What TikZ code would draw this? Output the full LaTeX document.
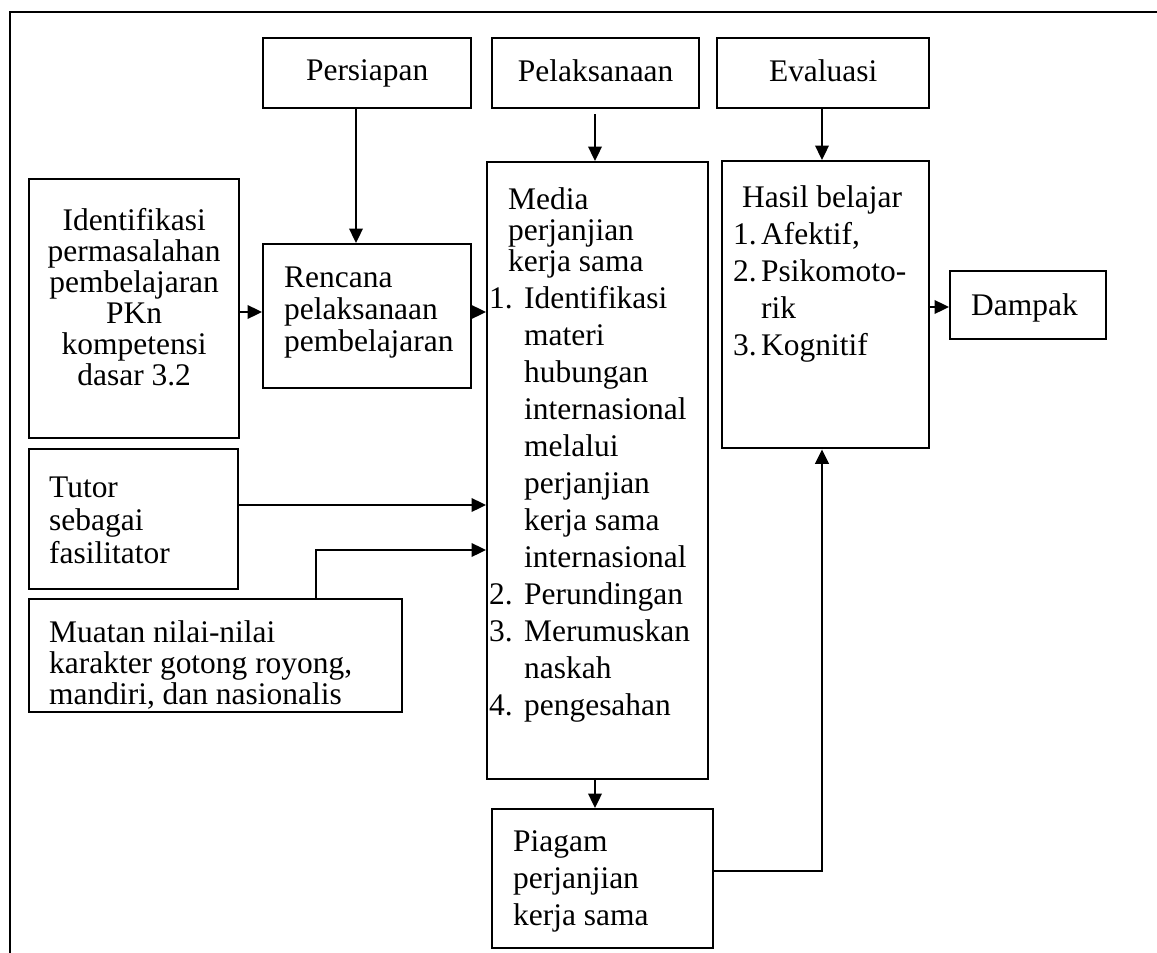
\documentclass[tikz,border=0pt]{standalone}
\usepackage{fontspec}
\setmainfont{Liberation Serif}
\usetikzlibrary{arrows.meta}
\newlength{\unitpx}
\setlength{\unitpx}{0.02cm}
\newcommand{\listnum}[2]{\leavevmode\llap{\makebox[#1\unitpx][l]{#2}}}

\begin{document}
\begin{tikzpicture}[x=0.02cm, y=-0.02cm,
		box/.style={draw, line width=1.35pt, inner sep=0pt, anchor=north west, font=\fontsize{17.9}{21}\selectfont},
		arr/.style={line width=1.35pt, -{Triangle[length=0.29cm,width=0.27cm]}}]
			\useasboundingbox (0,0) rectangle (1157,953);
			\draw[line width=1.35pt] (1157,12) -- (10,12) -- (10,953);
			\node[box] (Persiapan) at (262,37) {\parbox[c][70\unitpx][t]{208\unitpx}{\vspace*{21\unitpx}\centering Persiapan}};
			\node[box] (Pelaksanaan) at (491,37) {\parbox[c][70\unitpx][t]{207\unitpx}{\vspace*{21\unitpx}\centering Pelaksanaan}};
			\node[box] (Evaluasi) at (716,37) {\parbox[c][70\unitpx][t]{212\unitpx}{\vspace*{21\unitpx}\centering Evaluasi}};
			\node[box] (Identifikasi) at (28,178) {\parbox[c][259\unitpx][t]{210\unitpx}{\vspace*{29\unitpx}\centering\baselineskip=31\unitpx Identifikasi\\permasalahan\\pembelajaran\\PKn\\kompetensi\\dasar 3.2}};
			\node[box] (Rencana) at (262,243) {\parbox[c][144\unitpx][t]{208\unitpx}{\vspace*{23\unitpx}\raggedright\leftskip=21\unitpx\baselineskip=32\unitpx Rencana\\pelaksanaan\\pembelajaran}};
			\node[box] (Media) at (486,161) {\parbox[c][617\unitpx][t]{221\unitpx}{\vspace*{25\unitpx}\raggedright
				{\leftskip=21\unitpx\baselineskip=31\unitpx Media\\perjanjian\\kerja sama\par}
				{\leftskip=37\unitpx\baselineskip=37\unitpx \listnum{35}{1.}Identifikasi\\materi\\hubungan\\internasional\\melalui\\perjanjian\\kerja sama\\internasional\\\listnum{35}{2.}Perundingan\\\listnum{35}{3.}Merumuskan\\naskah\\\listnum{35}{4.}pengesahan\par}}};
			\node[box] (Hasil) at (721,160) {\parbox[c][287\unitpx][t]{207\unitpx}{\vspace*{24\unitpx}\raggedright
				{\leftskip=20\unitpx\baselineskip=37\unitpx Hasil belajar\par}
				{\leftskip=39\unitpx\baselineskip=37\unitpx \listnum{28}{1.}Afektif,\\\listnum{28}{2.}Psikomoto-\\rik\\\listnum{28}{3.}Kognitif\par}}};
			\node[box] (Dampak) at (949,270) {\parbox[c][68\unitpx][t]{156\unitpx}{\vspace*{22\unitpx}\raggedright\leftskip=21\unitpx Dampak}};
			\node[box] (Tutor) at (28,448) {\parbox[c][140\unitpx][t]{209\unitpx}{\vspace*{28\unitpx}\raggedright\leftskip=20\unitpx\baselineskip=33\unitpx Tutor\\sebagai\\fasilitator}};
			\node[box] (Muatan) at (28,598) {\parbox[c][113\unitpx][t]{373\unitpx}{\vspace*{21\unitpx}\raggedright\leftskip=20\unitpx\baselineskip=31\unitpx Muatan nilai-nilai\\karakter gotong royong,\\mandiri, dan nasionalis}};
			\node[box] (Piagam) at (491,808) {\parbox[c][139\unitpx][t]{221\unitpx}{\vspace*{21\unitpx}\raggedright\leftskip=21\unitpx\baselineskip=37\unitpx Piagam\\perjanjian\\kerja sama}};
			\coordinate (colP) at (356,0);
			\coordinate (colM) at (595,0);
			\coordinate (colE) at (822,0);
			\coordinate (colK) at (316,0);
			\coordinate (rowR) at (0,312);
			\coordinate (rowD) at (0,307);
			\coordinate (rowT) at (0,505);
			\coordinate (rowK) at (0,550);
			\coordinate (rowP) at (0,871);
			\draw[arr] (Persiapan.south -| colP) -- (Rencana.north -| colP);
			\draw[arr, shorten <=0.1cm] (Pelaksanaan.south -| colM) -- (Media.north -| colM);
			\draw[arr] (Evaluasi.south -| colE) -- (Hasil.north -| colE);
			\draw[arr] (Identifikasi.east |- rowR) -- (Rencana.west |- rowR);
			\draw[arr] (Rencana.east |- rowR) -- (Media.west |- rowR);
			\draw[arr] (Hasil.east |- rowD) -- (Dampak.west |- rowD);
			\draw[arr] (Tutor.east |- rowT) -- (Media.west |- rowT);
			\draw[arr] (Muatan.north -| colK) |- (Media.west |- rowK);
			\draw[arr] (Media.south -| colM) -- (Piagam.north -| colM);
			\draw[arr] (Piagam.east |- rowP) -| (Hasil.south -| colE);
		\end{tikzpicture}
\end{document}
